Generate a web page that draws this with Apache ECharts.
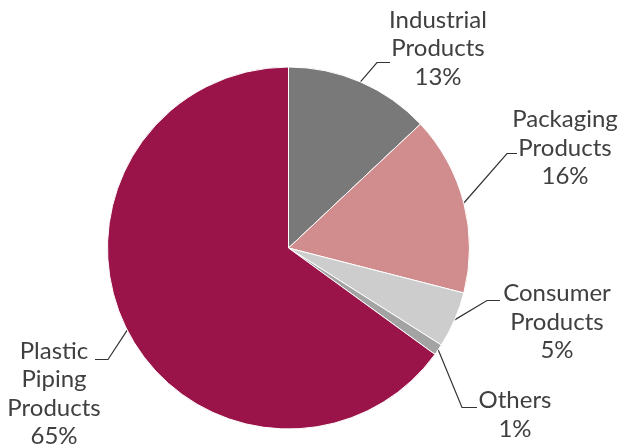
<!DOCTYPE html>
<html>
<head>
<meta charset="utf-8">
<script src="https://cdn.jsdelivr.net/npm/echarts@6/dist/echarts.min.js"></script>
<style>
  html, body { margin: 0; padding: 0; background: #ffffff; }
  #chart { width: 623px; height: 448px; }
</style>
</head>
<body>
<div id="chart"></div>
<script>
// Product segments, clockwise from 12 o'clock
const categories = ['Industrial Products', 'Packaging Products', 'Consumer Products', 'Others', 'Plastic Piping Products'];
const shares = [13, 16, 5, 1, 65];
const sliceColors = ['#797979', '#d18d8d', '#cdcdcd', '#a3a3a3', '#9a1449'];

// Where each label block sits (centre), where its leader line ends and the horizontal run before it
const labelPlacement = {
  'Industrial Products':     { center: [438, 48.5], end: [390, 62.5],  run: 13 },
  'Packaging Products':      { center: [565, 148],  end: [517, 153.5], run: 10 },
  'Consumer Products':       { center: [557, 322],  end: [500, 300.5], run: 13 },
  'Others':                  { center: [515, 415],  end: [477, 407.5], run: 15 },
  'Plastic Piping Products': { center: [54, 394],   end: [95, 359.5],  run: -13 }
};

const chart = echarts.init(document.getElementById('chart'), null, { renderer: 'canvas' });

chart.setOption({
  animation: false,
  backgroundColor: '#ffffff',
  series: [{
    type: 'pie',
    center: [288.5, 248],
    radius: 181,
    startAngle: 90,
    clockwise: true,
    avoidLabelOverlap: false,
    silent: true,
    data: categories.map((name, i) => ({
      name: name,
      value: shares[i],
      itemStyle: { color: sliceColors[i] }
    })),
    itemStyle: { borderColor: '#ffffff', borderWidth: 1 },
    label: {
      show: true,
      position: 'outside',
      formatter: p => p.name.split(' ').join('\n') + '\n' + p.value + '%',
      fontFamily: 'Lato',
      fontSize: 24,
      lineHeight: 28.5,
      color: '#404040',
      align: 'center'
    },
    labelLine: {
      show: true,
      length: 10,
      length2: 10,
      lineStyle: { color: '#333333', width: 1.2 }
    },
    labelLayout: function (params) {
      const spot = labelPlacement[categories[params.dataIndex]];
      const start = params.labelLinePoints[0];
      const elbow = [spot.end[0] - spot.run, spot.end[1]];
      return {
        x: spot.center[0],
        y: spot.center[1],
        align: 'center',
        verticalAlign: 'middle',
        labelLinePoints: [start, elbow, spot.end]
      };
    }
  }]
});
</script>
</body>
</html>
